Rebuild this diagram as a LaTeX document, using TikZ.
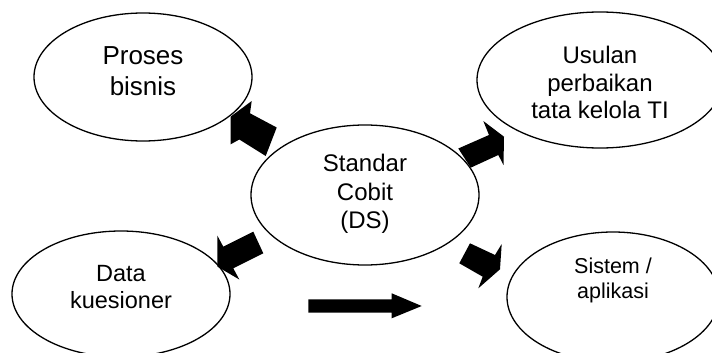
\documentclass[tikz,border=0pt]{standalone}
\usepackage{fontspec}
\setmainfont{Liberation Sans}
\usetikzlibrary{shapes.geometric}
\begin{document}
\begin{tikzpicture}[x=1pt,y=-1pt,
  bubble/.style={draw, ellipse, line width=1.3pt, inner sep=0pt},
  blockarrow/.style={fill=black, draw=none},
  lbl/.style={align=center, inner sep=0pt}]
\useasboundingbox (0,0) rectangle (712,353);
% bubbles
\node[bubble, minimum width=218pt, minimum height=128pt,
  label={[lbl, font=\fontsize{26}{31}\selectfont, yshift=6pt]center:Proses\\bisnis}] (proses) at (143,77) {};
\node[bubble, minimum width=246pt, minimum height=136pt,
  label={[lbl, font=\fontsize{24}{27.5}\selectfont, yshift=-2.5pt]center:Usulan\\perbaikan\\tata kelola TI}] (usulan) at (600,80) {};
\node[bubble, minimum width=228pt, minimum height=140pt,
  label={[lbl, font=\fontsize{24}{28.5}\selectfont, yshift=1pt]center:Standar\\Cobit\\(DS)}] (cobit) at (365,195) {};
\node[bubble, minimum width=218pt, minimum height=126pt,
  label={[lbl, font=\fontsize{23.5}{27}\selectfont, yshift=7pt]center:Data\\kuesioner}] (data) at (121,294) {};
\node[bubble, minimum width=212pt, minimum height=130pt,
  label={[lbl, font=\fontsize{21.5}{25}\selectfont, yshift=17pt]center:Sistem /\\aplikasi}] (sistem) at (613,297) {};
% block arrows
\fill[blockarrow] (251.7,101) -- (250,113.3) -- (276.7,127.5) -- (265.7,156) -- (239.3,139.5) -- (230.7,144.3) -- (230.5,116.7) -- cycle;
\fill[blockarrow] (458.3,148.5) -- (489,135) -- (483.3,121) -- (504,136.7) -- (503.5,165) -- (498.3,155) -- (470.7,167.7) -- cycle;
\fill[blockarrow] (253.3,231.7) -- (223.3,246.7) -- (217.3,235.5) -- (217.5,266.7) -- (239.3,279.5) -- (233.3,268.3) -- (263.3,253.3) -- cycle;
\fill[blockarrow] (470,243.3) -- (495,255) -- (501.7,244) -- (500,269.3) -- (478.3,288.3) -- (482.7,276.7) -- (459.3,263.3) -- cycle;
\fill[blockarrow] (308.3,299.3) -- (391.7,299.3) -- (391.7,293.3) -- (421.7,306) -- (391.7,318.3) -- (391.7,312.7) -- (308.3,312.7) -- cycle;
\end{tikzpicture}
\end{document}
